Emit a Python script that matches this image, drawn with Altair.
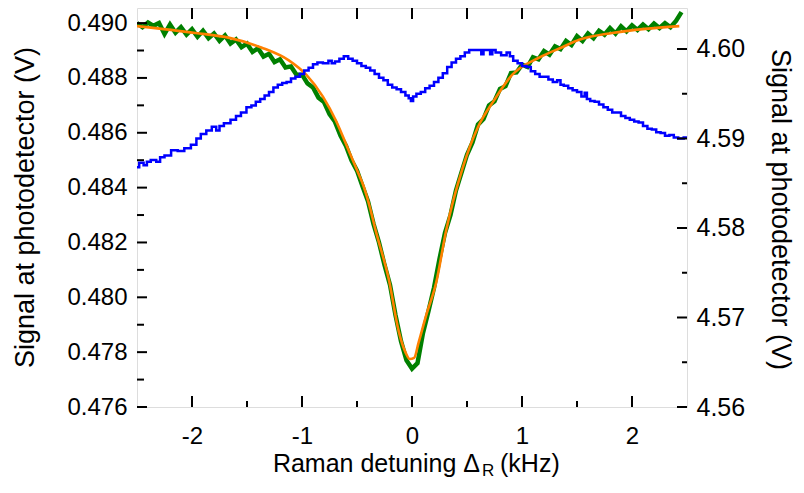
import altair as alt
import pandas as pd

# ---------------- data ----------------
green_detuning = [-2.50, -2.45, -2.40, -2.35, -2.30, -2.25, -2.20, -2.15, -2.10, -2.05,
                  -2.00, -1.95, -1.90, -1.85, -1.80, -1.75, -1.70, -1.65, -1.60, -1.55,
                  -1.50, -1.45, -1.40, -1.35, -1.30, -1.25, -1.20, -1.15, -1.10, -1.05,
                  -1.00, -0.95, -0.90, -0.85, -0.80, -0.75, -0.70, -0.65, -0.60, -0.55,
                  -0.50, -0.45, -0.40, -0.35, -0.30, -0.25, -0.20, -0.15, -0.10, -0.05,
                  0.00, 0.05, 0.10, 0.15, 0.20, 0.25, 0.30, 0.35, 0.40, 0.45,
                  0.50, 0.55, 0.60, 0.65, 0.70, 0.75, 0.80, 0.85, 0.90, 0.95,
                  1.00, 1.05, 1.10, 1.15, 1.20, 1.25, 1.30, 1.35, 1.40, 1.45,
                  1.50, 1.55, 1.60, 1.65, 1.70, 1.75, 1.80, 1.85, 1.90, 1.95,
                  2.00, 2.05, 2.10, 2.15, 2.20, 2.25, 2.30, 2.35, 2.40, 2.45]
green_signal = [0.49000, 0.48985, 0.49002, 0.48990, 0.49000, 0.48960, 0.48995, 0.48965, 0.48985, 0.48958,
                0.48978, 0.48950, 0.48972, 0.48945, 0.48962, 0.48935, 0.48955, 0.48925, 0.48940, 0.48912,
                0.48925, 0.48895, 0.48908, 0.48878, 0.48888, 0.48858, 0.48868, 0.48838, 0.48842, 0.48812,
                0.48812, 0.48780, 0.48765, 0.48728, 0.48712, 0.48668, 0.48640, 0.48590, 0.48552, 0.48500,
                0.48462, 0.48405, 0.48350, 0.48268, 0.48200, 0.48118, 0.48045, 0.47935, 0.47840, 0.47770,
                0.47740, 0.47760, 0.47870, 0.47950, 0.48035, 0.48140, 0.48235, 0.48300, 0.48390, 0.48455,
                0.48520, 0.48565, 0.48630, 0.48650, 0.48700, 0.48715, 0.48760, 0.48770, 0.48818, 0.48820,
                0.48848, 0.48840, 0.48875, 0.48868, 0.48898, 0.48885, 0.48915, 0.48905, 0.48935, 0.48920,
                0.48952, 0.48935, 0.48962, 0.48945, 0.48972, 0.48958, 0.48982, 0.48962, 0.48988, 0.48970,
                0.48992, 0.48975, 0.48995, 0.48978, 0.48998, 0.48982, 0.49000, 0.48985, 0.49008, 0.49040]

fit_detuning = [-2.50, -1.97, -1.66, -1.37, -1.12, -0.96, -0.81, -0.69, -0.57, -0.48,
                -0.44, -0.39, -0.33, -0.21, -0.12, -0.06, -0.02, 0.02, 0.06, 0.13,
                0.22, 0.31, 0.46, 0.60, 0.75, 0.91, 1.16, 1.36, 1.52, 1.82, 2.12, 2.43]
fit_signal = [0.48989, 0.48964, 0.48946, 0.48911, 0.48864, 0.48811, 0.48732, 0.48643, 0.48530, 0.48445,
              0.48405, 0.48339, 0.48243, 0.48064, 0.47875, 0.47800, 0.47775, 0.47779, 0.47835, 0.47936,
              0.48054, 0.48243, 0.48471, 0.48621, 0.48721, 0.48811, 0.48875, 0.48911, 0.48939, 0.48964,
              0.48979, 0.48989]

blue_detuning = [-2.50, -2.46, -2.42, -2.40, -2.35, -2.30, -2.28, -2.22, -2.16, -2.10,
                 -2.04, -1.98, -1.94, -1.90, -1.84, -1.80, -1.76, -1.74, -1.68, -1.62,
                 -1.58, -1.53, -1.48, -1.44, -1.40, -1.36, -1.32, -1.28, -1.24, -1.20,
                 -1.16, -1.12, -1.08, -1.04, -1.00, -0.96, -0.92, -0.88, -0.84, -0.78,
                 -0.74, -0.72, -0.68, -0.64, -0.60, -0.56, -0.52, -0.48, -0.44, -0.40,
                 -0.36, -0.32, -0.28, -0.24, -0.20, -0.16, -0.12, -0.08, -0.04, -0.02,
                 0.00, 0.02, 0.06, 0.10, 0.14, 0.18, 0.22, 0.26, 0.30, 0.34,
                 0.38, 0.42, 0.46, 0.50, 0.54, 0.58, 0.62, 0.64, 0.66, 0.70,
                 0.72, 0.74, 0.78, 0.84, 0.88, 0.90, 0.94, 0.98, 1.02, 1.06,
                 1.10, 1.14, 1.18, 1.22, 1.26, 1.30, 1.34, 1.36, 1.40, 1.44,
                 1.48, 1.52, 1.56, 1.58, 1.60, 1.64, 1.68, 1.72, 1.76, 1.80,
                 1.84, 1.88, 1.92, 1.96, 2.00, 2.04, 2.08, 2.12, 2.16, 2.20,
                 2.24, 2.28, 2.32, 2.36, 2.40, 2.44, 2.50]
blue_signal = [4.5868, 4.5873, 4.5870, 4.5874, 4.5876, 4.5874, 4.5879, 4.5881, 4.5887, 4.5886,
               4.5889, 4.5893, 4.5900, 4.5905, 4.5909, 4.5913, 4.5909, 4.5914, 4.5917, 4.5921,
               4.5925, 4.5929, 4.5935, 4.5937, 4.5941, 4.5944, 4.5948, 4.5952, 4.5957, 4.5960,
               4.5962, 4.5963, 4.5967, 4.5969, 4.5972, 4.5976, 4.5979, 4.5983, 4.5985, 4.5984,
               4.5987, 4.5984, 4.5986, 4.5989, 4.5992, 4.5989, 4.5987, 4.5984, 4.5981, 4.5979,
               4.5976, 4.5972, 4.5968, 4.5965, 4.5960, 4.5957, 4.5955, 4.5952, 4.5948, 4.5945,
               4.5942, 4.5947, 4.5950, 4.5952, 4.5956, 4.5959, 4.5963, 4.5968, 4.5973, 4.5980,
               4.5985, 4.5989, 4.5992, 4.5996, 4.5999, 4.5999, 4.5999, 4.5994, 4.5999, 4.5999,
               4.5994, 4.5999, 4.5996, 4.5993, 4.5996, 4.5992, 4.5987, 4.5984, 4.5981, 4.5980,
               4.5975, 4.5972, 4.5969, 4.5969, 4.5966, 4.5963, 4.5965, 4.5960, 4.5959, 4.5956,
               4.5954, 4.5952, 4.5947, 4.5951, 4.5944, 4.5942, 4.5941, 4.5938, 4.5935, 4.5932,
               4.5929, 4.5929, 4.5925, 4.5923, 4.5921, 4.5919, 4.5918, 4.5914, 4.5911, 4.5910,
               4.5907, 4.5906, 4.5903, 4.5904, 4.5901, 4.5900, 4.5901]

x_major = [-2, -1, 0, 1, 2]
x_minor = [-1.5, -0.5, 0.5, 1.5]
x_top = [-2, -1.5, -1, -0.5, 0, 0.5, 1, 1.5, 2]
left_major = [0.476, 0.478, 0.480, 0.482, 0.484, 0.486, 0.488, 0.490]
left_minor = [0.477, 0.479, 0.481, 0.483, 0.485, 0.487, 0.489]
right_major = [4.56, 4.57, 4.58, 4.59, 4.60]
right_minor = [4.565, 4.575, 4.585, 4.595]

# ---------------- chart ----------------
W, H = 550, 399
FONT = "Liberation Sans"

x_scale = alt.Scale(domain=[-2.5, 2.5], nice=False, zero=False)
yl_scale = alt.Scale(domain=[0.476, 0.49055], nice=False, zero=False)
yr_scale = alt.Scale(domain=[4.56, 4.60458], nice=False, zero=False)

x_axis = alt.Axis(values=x_major, ticks=False, domain=False, grid=False,
                  labelExpr="datum.value < 0 ? '-' + format(-datum.value, 'd') : format(datum.value, 'd')",
                  labelFontSize=24, labelFont=FONT, labelColor="black",
                  labelPadding=17, labelFlush=False, title=None)
left_axis = alt.Axis(values=left_major, format=".3f", ticks=False, domain=False, grid=False,
                     labelFontSize=24, labelFont=FONT, labelColor="black", labelPadding=10,
                     labelFlush=False,
                     title="Signal at photodetector (V)", titleFont=FONT, titleFontSize=27,
                     titleFontWeight="normal", titleColor="black", titleAngle=-90,
                     titleX=-104, titleY=199, titleAlign="center", titleBaseline="alphabetic")
right_axis = alt.Axis(orient="right", values=right_major, format=".2f", ticks=False, domain=False,
                      grid=False, labelFontSize=25, labelFont=FONT, labelColor="black",
                      labelPadding=9, labelFlush=False,
                      title="Signal at photodetector (V)", titleFont=FONT, titleFontSize=27,
                      titleFontWeight="normal", titleColor="black", titleAngle=90,
                      titleX=84, titleY=201, titleAlign="center", titleBaseline="alphabetic")


def X():
    return alt.X("x:Q", scale=x_scale, axis=x_axis)


def YL():
    return alt.Y("v:Q", scale=yl_scale, axis=left_axis)


def YR():
    return alt.Y("v:Q", scale=yr_scale, axis=right_axis)


green_df = pd.DataFrame({"x": green_detuning, "v": green_signal})
fit_df = pd.DataFrame({"x": fit_detuning, "v": fit_signal})
blue_df = pd.DataFrame({"x": blue_detuning, "v": blue_signal})

green = alt.Chart(green_df).mark_line(color="#008000", strokeWidth=4.5, clip=True).encode(
    x=X(), y=YL(), order="x:Q")
fit = alt.Chart(fit_df).mark_line(color="#ff8000", strokeWidth=2.6, clip=True,
                                  interpolate="monotone").encode(x=X(), y=YL(), order="x:Q")

tick_col = "black"
bx_major = alt.Chart(pd.DataFrame({"x": x_major})).mark_rule(color=tick_col, strokeWidth=2).encode(
    x=X(), y=alt.value(H), y2=alt.value(H - 11))
bx_minor = alt.Chart(pd.DataFrame({"x": x_minor})).mark_rule(color=tick_col, strokeWidth=2).encode(
    x=X(), y=alt.value(H), y2=alt.value(H - 6))
tx = alt.Chart(pd.DataFrame({"x": x_top})).mark_rule(color=tick_col, strokeWidth=2).encode(
    x=X(), y=alt.value(0), y2=alt.value(11))
ly_major = alt.Chart(pd.DataFrame({"v": left_major})).mark_rule(color=tick_col, strokeWidth=2).encode(
    y=YL(), x=alt.value(0), x2=alt.value(10))
ly_minor = alt.Chart(pd.DataFrame({"v": left_minor})).mark_rule(color=tick_col, strokeWidth=2).encode(
    y=YL(), x=alt.value(0), x2=alt.value(7))

t_main = alt.Chart(pd.DataFrame({"t": ["Raman detuning \u0394"]})).mark_text(
    font=FONT, fontSize=25, align="right", baseline="alphabetic", color="black").encode(
    x=alt.value(343), y=alt.value(464), text="t:N")
t_sub = alt.Chart(pd.DataFrame({"t": ["R"]})).mark_text(
    font=FONT, fontSize=17, align="left", baseline="alphabetic", color="black").encode(
    x=alt.value(345), y=alt.value(468), text="t:N")
t_unit = alt.Chart(pd.DataFrame({"t": ["(kHz)"]})).mark_text(
    font=FONT, fontSize=25, align="left", baseline="alphabetic", color="black").encode(
    x=alt.value(363), y=alt.value(464), text="t:N")

left_group = alt.layer(green, fit, bx_major, bx_minor, tx, ly_major, ly_minor,
                       t_main, t_sub, t_unit)

blue = alt.Chart(blue_df).mark_line(color="#0000ff", strokeWidth=2.5, clip=True,
                                    interpolate="step").encode(x=X(), y=YR(), order="x:Q")
ry_major = alt.Chart(pd.DataFrame({"v": right_major})).mark_rule(color=tick_col, strokeWidth=2).encode(
    y=YR(), x=alt.value(W), x2=alt.value(W - 10))
ry_minor = alt.Chart(pd.DataFrame({"v": right_minor})).mark_rule(color=tick_col, strokeWidth=2).encode(
    y=YR(), x=alt.value(W), x2=alt.value(W - 5))
right_group = alt.layer(blue, ry_major, ry_minor)

chart = alt.layer(left_group, right_group).resolve_scale(y="independent").properties(
    width=W, height=H,
    autosize=alt.AutoSizeParams(type="none"),
    padding={"left": 129, "top": 0, "right": 109, "bottom": 73},
).configure_view(stroke="black", strokeWidth=2).configure(background="white")

chart.save("out.html", embed_options={"renderer": "svg", "actions": False})
